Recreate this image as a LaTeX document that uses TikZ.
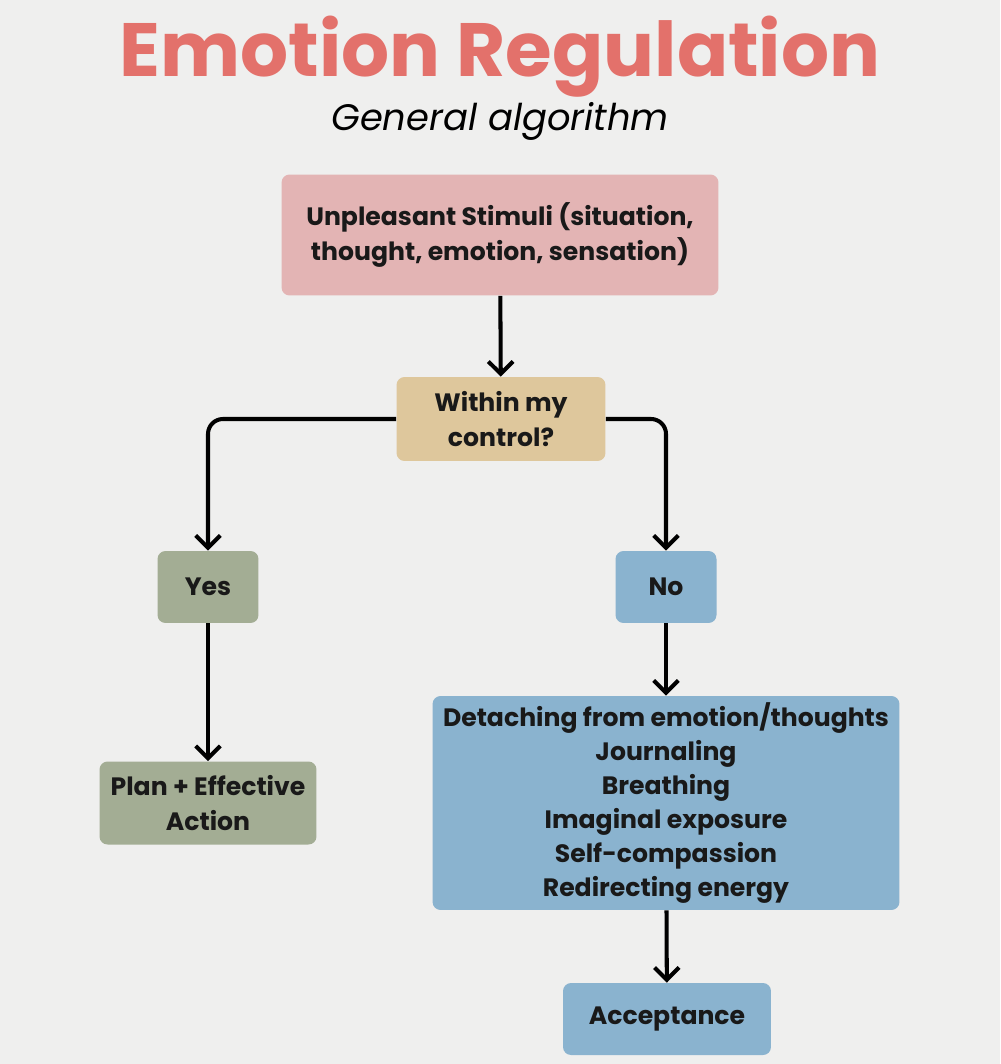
\documentclass[tikz,border=0pt]{standalone}
\usepackage{fontspec}
\setmainfont{Poppins}
\usetikzlibrary{arrows.meta}

\definecolor{paper}{HTML}{EFEFEE}
\definecolor{titlered}{HTML}{E3716B}
\definecolor{pinkbox}{HTML}{E3B4B4}
\definecolor{tanbox}{HTML}{DEC79C}
\definecolor{sagebox}{HTML}{A3AD94}
\definecolor{bluebox}{HTML}{8AB3CF}

\tikzset{
  stepbox/.style={rounded corners=0.16cm, inner sep=0pt, align=center,
    font=\fontsize{14.3}{19.4}\selectfont\bfseries, text=black!90},
  link/.style={line width=2.3pt, -{Straight Barb[length=7pt, width=14pt, line width=2.3pt]}, rounded corners=0.3cm}
}

\begin{document}
\begin{tikzpicture}[x=0.02cm, y=-0.02cm]
                \fill[paper] (0,0) rectangle (1000,1064);
                \useasboundingbox (0,0) rectangle (1000,1064);
                \node[font=\fontsize{43}{48}\selectfont\bfseries, text=titlered] (title) at (500,57) {Emotion Regulation};
                \node[font=\fontsize{21}{24}\selectfont\itshape] (subtitle) at (500,121) {General algorithm};
                \node[stepbox, fill=pinkbox, minimum width=8.74cm, minimum height=2.42cm] (stimuli) at (500,235) {Unpleasant Stimuli (situation,\\thought, emotion, sensation)};
                \node[stepbox, fill=tanbox, minimum width=4.18cm, minimum height=1.68cm] (control) at (501,419) {Within my\\control?};
                \node[stepbox, fill=sagebox, minimum width=2.02cm, minimum height=1.44cm] (yes) at (208,587) {Yes};
                \node[stepbox, fill=bluebox, minimum width=2.02cm, minimum height=1.44cm] (no) at (666,587) {No};
                \node[stepbox, fill=sagebox, minimum width=4.34cm, minimum height=1.66cm] (plan) at (208,803) {Plan + Effective\\Action};
                \node[stepbox, fill=bluebox, minimum width=9.34cm, minimum height=4.28cm] (detach) at (666,803) {Detaching from emotion/thoughts\\Journaling\\Breathing\\Imaginal exposure\\Self-compassion\\Redirecting energy};
                \node[stepbox, fill=bluebox, minimum width=4.16cm, minimum height=1.44cm] (accept) at (667,1019) {Acceptance};
                \draw[link] (stimuli) -- (control);
                \draw[link] (control.west) -| (yes.north);
                \draw[link] (control.east) -| (no.north);
                \draw[link] (yes) -- (plan);
                \draw[link] (no) -- (detach);
                \draw[link] (detach) -- (accept);
            \end{tikzpicture}
\end{document}
